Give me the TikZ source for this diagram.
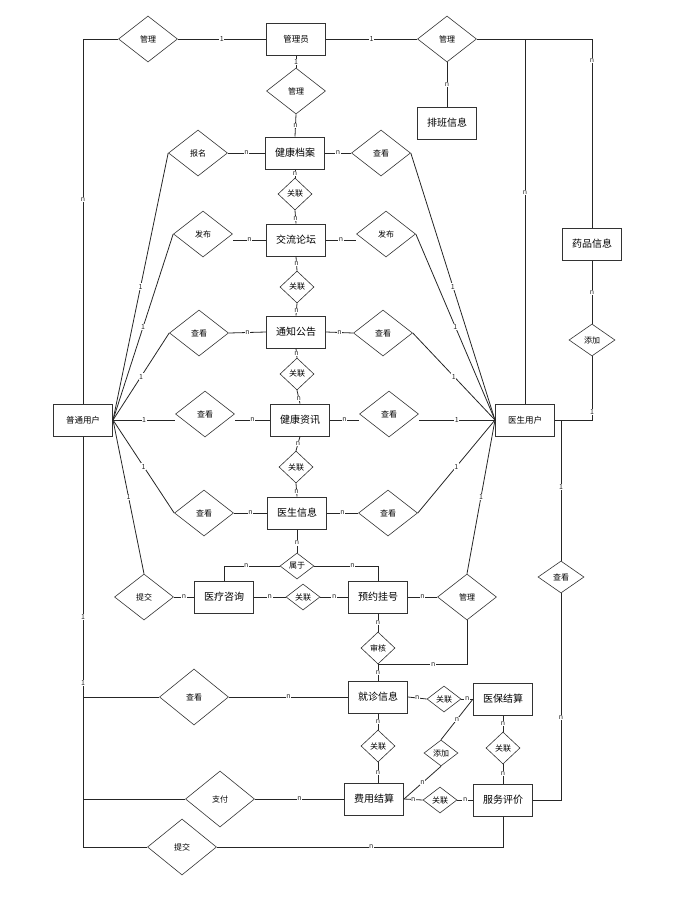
\documentclass[tikz,border=0pt]{standalone}
\usepackage{fontspec}
\setmainfont{Noto Sans CJK SC}
\usetikzlibrary{shapes.geometric}
\begin{document}
\begin{tikzpicture}[x=1pt,y=-1pt,
  ent/.style={draw=black!80, line width=1pt, rectangle, minimum width=59pt, minimum height=32pt, inner sep=0pt, font=\fontsize{10}{10}\selectfont},
  sent/.style={ent, font=\fontsize{8.5}{8.5}\selectfont},
  rel/.style={draw=black!80, line width=0.6pt, diamond, inner sep=0pt, minimum width=59pt, minimum height=46pt, font=\fontsize{8}{8}\selectfont},
  srel/.style={rel, minimum width=34pt, minimum height=32pt},
  trel/.style={rel, minimum width=34pt, minimum height=26pt},
  mrel/.style={rel, minimum width=46pt, minimum height=32pt},
  lrel/.style={rel, minimum width=69pt, minimum height=56pt},
  conn/.style={draw=black!85, line width=0.8pt},
  lab/.style={fill=white, inner sep=0.6pt, font=\fontsize{7}{7}\selectfont, text=black!85}
]
\useasboundingbox (0,0) rectangle (694,898);
% entities
\node[sent] (gly) at (296,39) {管理员};
\node[ent] (pb) at (447,123) {排班信息};
\node[ent] (jkda) at (295,153) {健康档案};
\node[ent] (jllt) at (296,240) {交流论坛};
\node[ent] (tzgg) at (296,332) {通知公告};
\node[ent] (jkzx) at (300,420) {健康资讯};
\node[ent] (ysxx) at (297,513) {医生信息};
\node[ent] (ylzx) at (224,597) {医疗咨询};
\node[ent] (yygh) at (378,597) {预约挂号};
\node[ent] (ypxx) at (592,244) {药品信息};
\node[sent] (pt) at (83,420) {普通用户};
\node[sent] (ys) at (525,420) {医生用户};
\node[ent] (jzxx) at (378,697) {就诊信息};
\node[ent] (ybjs) at (503,699) {医保结算};
\node[ent] (fyjs) at (374,799) {费用结算};
\node[ent] (fwpj) at (503,800) {服务评价};
% relationships
\node[rel] (r1) at (148,39) {管理};
\node[rel] (r2) at (447,39) {管理};
\node[rel] (r3) at (296,91) {管理};
\node[rel] (r4) at (198,153) {报名};
\node[rel] (r5) at (381,153) {查看};
\node[srel] (r6) at (295,194) {关联};
\node[rel] (r7) at (203,234) {发布};
\node[rel] (r8) at (386,234) {发布};
\node[srel] (r9) at (297,287) {关联};
\node[rel] (r10) at (199,333) {查看};
\node[rel] (r11) at (383,333) {查看};
\node[srel] (r12) at (297,374) {关联};
\node[rel] (r13) at (205,414) {查看};
\node[rel] (r14) at (389,414) {查看};
\node[srel] (r15) at (296,467) {关联};
\node[rel] (r16) at (204,513) {查看};
\node[rel] (r17) at (388,513) {查看};
\node[trel] (r18) at (297,566) {属于};
\node[trel] (r19) at (303,597) {关联};
\node[rel] (r20) at (144,597) {提交};
\node[rel] (r21) at (467,597) {管理};
\node[srel] (r22) at (378,648) {审核};
\node[lrel] (r23) at (194,697) {查看};
\node[trel] (r24) at (444,699) {关联};
\node[mrel] (r25) at (561,577) {查看};
\node[mrel] (r26) at (592,340) {添加};
\node[srel] (r27) at (378,746) {关联};
\node[trel] (r28) at (441,753) {添加};
\node[srel] (r29) at (503,748) {关联};
\node[trel] (r30) at (440,800) {关联};
\node[lrel] (r31) at (220,799) {支付};
\node[lrel] (r32) at (182,847) {提交};
% connectors: top
\path[conn] (pt.north) |- node[lab,pos=0.28]{n} (r1.west);
\path[conn] (r1.east) -- node[lab]{1} (gly.west);
\path[conn] (gly.east) -- node[lab]{1} (r2.west);
\path[conn] (r2.east) -| node[lab,pos=0.556]{n} (ypxx.north);
\path[conn] (ys.north |- r2.east) -- node[lab,pos=0.42]{n} (ys.north);
\path[conn] (r2.south) -- node[lab]{n} (pb.north);
\path[conn] (gly.south) -- node[lab]{1} (r3.north);
\path[conn] (r3.south) -- node[lab]{n} (jkda.north);
\path[conn] (ypxx.south) -- node[lab]{n} (r26.north);
\path[conn] (r26.south) |- node[lab,pos=0.44]{1} (ys.east);
\path[conn] (r25.north |- ys.east) -- node[lab,pos=0.475]{1} (r25.north);
\path[conn] (r25.south) |- node[lab,pos=0.3]{n} (fwpj.east);
% fans from pt
\path[conn] (pt.east) -- node[lab]{1} (r4.west);
\path[conn] (pt.east) -- node[lab]{1} (r7.west);
\path[conn] (pt.east) -- node[lab]{1} (r10.west);
\path[conn] (pt.east) -- node[lab]{1} (pt.east -| r13.west);
\path[conn] (pt.east) -- node[lab]{1} (r16.west);
\path[conn] (pt.east) -- node[lab]{1} (r20.north);
% fans from ys
\path[conn] (ys.west) -- node[lab]{1} (r5.east);
\path[conn] (ys.west) -- node[lab]{1} (r8.east);
\path[conn] (ys.west) -- node[lab]{1} (r11.east);
\path[conn] (ys.west) -- node[lab]{1} (ys.west -| r14.east);
\path[conn] (ys.west) -- node[lab]{1} (r17.east);
\path[conn] (ys.west) -- node[lab]{1} (r21.north);
% central column
\path[conn] (jkda.west) -- node[lab]{n} (r4.east);
\path[conn] (jkda.east) -- node[lab]{n} (r5.west);
\path[conn] (jkda.south) -- node[lab]{n} (r6.north);
\path[conn] (r6.south) -- node[lab,pos=0.6]{n} (jllt.north);
\path[conn] (jllt.west) -- node[lab]{n} (jllt.west -| r7.east);
\path[conn] (jllt.east) -- node[lab]{n} (jllt.east -| r8.west);
\path[conn] (jllt.south) -- node[lab]{n} (r9.north);
\path[conn] (r9.south) -- node[lab,pos=0.6]{n} (tzgg.north);
\path[conn] (tzgg.west) -- node[lab]{n} (r10.east);
\path[conn] (tzgg.east) -- node[lab]{n} (r11.west);
\path[conn] (tzgg.south) -- node[lab]{n} (r12.north);
\path[conn] (r12.south) -- node[lab,pos=0.6]{n} (jkzx.north);
\path[conn] (jkzx.west) -- node[lab]{n} (jkzx.west -| r13.east);
\path[conn] (jkzx.east) -- node[lab]{n} (jkzx.east -| r14.west);
\path[conn] (jkzx.south) -- node[lab]{n} (r15.north);
\path[conn] (r15.south) -- node[lab,pos=0.6]{n} (ysxx.north);
\path[conn] (ysxx.west) -- node[lab]{n} (r16.east);
\path[conn] (ysxx.east) -- node[lab]{n} (r17.west);
\path[conn] (ysxx.south) -- node[lab,pos=0.58]{n} (r18.north);
\path[conn] (r18.west) -| node[lab,pos=0.3]{n} (ylzx.north);
\path[conn] (r18.east) -| node[lab,pos=0.3]{n} (yygh.north);
\path[conn] (ylzx.west) -- node[lab]{n} (r20.east);
\path[conn] (ylzx.east) -- node[lab]{n} (r19.west);
\path[conn] (r19.east) -- node[lab]{n} (yygh.west);
\path[conn] (yygh.east) -- node[lab]{n} (r21.west);
\path[conn] (yygh.south) -- node[lab]{n} (r22.north);
\path[conn] (r22.south) -- node[lab]{n} (jzxx.north);
\path[conn] (r21.south) |- node[lab,pos=0.69]{n} (r22.south);
% lower left
\path[conn] (pt.south) |- node[lab,pos=0.22]{1} node[lab,pos=0.30]{1} (r32.west);
\path[conn] (pt.south |- r23.west) -- (r23.west);
\path[conn] (pt.south |- r31.west) -- (r31.west);
\path[conn] (r23.east) -- node[lab]{n} (jzxx.west);
\path[conn] (r31.east) -- node[lab]{n} (fyjs.west);
\path[conn] (r32.east) -| node[lab,pos=0.27]{n} (fwpj.south);
% lower right
\path[conn] (jzxx.east) -- node[lab]{n} (r24.west);
\path[conn] (r24.east) -- node[lab]{n} (ybjs.west);
\path[conn] (jzxx.south) -- node[lab]{n} (r27.north);
\path[conn] (r27.south) -- node[lab]{n} (r27.south |- fyjs.north);
\path[conn] (fyjs.east) -- node[lab]{n} (r28.south);
\path[conn] (r28.north) -- node[lab]{n} (ybjs.west);
\path[conn] (fyjs.east) -- node[lab]{n} (r30.west);
\path[conn] (r30.east) -- node[lab]{n} (fwpj.west);
\path[conn] (ybjs.south) -- node[lab]{n} (r29.north);
\path[conn] (r29.south) -- node[lab]{n} (fwpj.north);
\end{tikzpicture}
\end{document}
